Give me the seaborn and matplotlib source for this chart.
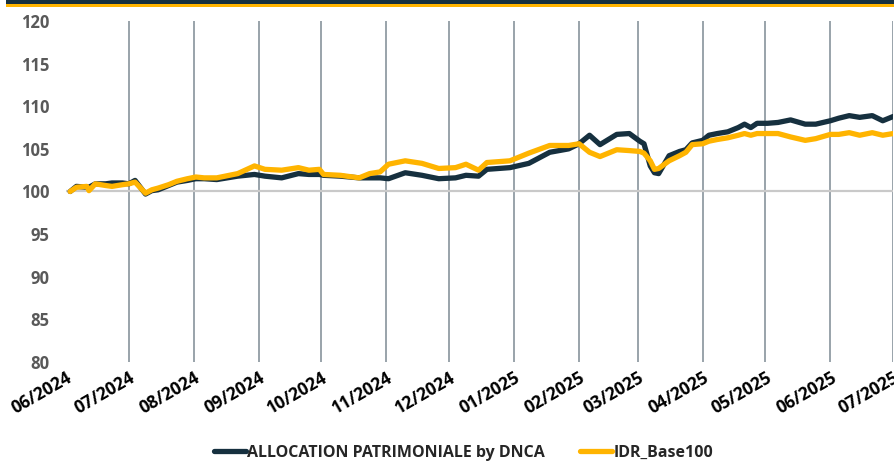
import matplotlib
matplotlib.use("Agg")
import matplotlib.pyplot as plt
from matplotlib.patches import Rectangle
from matplotlib.lines import Line2D
import seaborn as sns
import pandas as pd

dates = [
    "2024-06-03", "2024-06-06", "2024-06-11", "2024-06-12", "2024-06-15", "2024-06-20",
    "2024-06-23", "2024-06-28", "2024-07-01", "2024-07-04", "2024-07-09", "2024-07-12",
    "2024-07-15", "2024-07-20", "2024-07-24", "2024-07-29", "2024-08-02", "2024-08-06",
    "2024-08-12", "2024-08-22", "2024-08-30", "2024-09-04", "2024-09-12", "2024-09-20",
    "2024-09-25", "2024-09-30", "2024-10-02", "2024-10-10", "2024-10-19", "2024-10-24",
    "2024-10-29", "2024-11-02", "2024-11-10", "2024-11-18", "2024-11-26", "2024-12-04",
    "2024-12-09", "2024-12-15", "2024-12-19", "2024-12-30", "2025-01-08", "2025-01-18",
    "2025-01-27", "2025-02-01", "2025-02-06", "2025-02-11", "2025-02-19", "2025-02-25",
    "2025-03-02", "2025-03-04", "2025-03-07", "2025-03-09", "2025-03-11", "2025-03-16",
    "2025-03-21", "2025-03-24", "2025-03-27", "2025-04-01", "2025-04-04", "2025-04-08",
    "2025-04-13", "2025-04-18", "2025-04-21", "2025-04-24", "2025-04-27", "2025-05-02",
    "2025-05-07", "2025-05-13", "2025-05-20", "2025-05-25", "2025-06-01", "2025-06-05",
    "2025-06-10", "2025-06-15", "2025-06-21", "2025-06-26", "2025-07-01",
]

dnca = [
    100.0, 100.6, 100.5, 100.5, 100.9, 100.9,
    101.0, 101.0, 100.9, 101.3, 99.7, 100.1,
    100.2, 100.7, 101.1, 101.3, 101.5, 101.5,
    101.4, 101.8, 102.0, 101.8, 101.6, 102.1,
    102.0, 102.0, 101.9, 101.8, 101.6, 101.6,
    101.6, 101.5, 102.2, 101.9, 101.5, 101.6,
    101.9, 101.8, 102.6, 102.8, 103.3, 104.6,
    105.0, 105.6, 106.6, 105.5, 106.7, 106.8,
    105.9, 105.6, 103.0, 102.2, 102.1, 104.2,
    104.7, 104.9, 105.7, 106.0, 106.6, 106.8,
    107.0, 107.5, 107.9, 107.5, 108.0, 108.0,
    108.1, 108.4, 107.9, 107.9, 108.3, 108.6,
    108.9, 108.7, 108.9, 108.3, 108.8,
]

idr = [
    100.0, 100.5, 100.6, 100.1, 100.9, 100.7,
    100.6, 100.8, 100.9, 101.1, 99.8, 100.2,
    100.4, 100.8, 101.2, 101.5, 101.7, 101.6,
    101.6, 102.1, 103.0, 102.6, 102.5, 102.8,
    102.5, 102.6, 102.0, 101.9, 101.6, 102.1,
    102.3, 103.2, 103.6, 103.3, 102.7, 102.8,
    103.2, 102.5, 103.4, 103.6, 104.5, 105.4,
    105.4, 105.6, 104.6, 104.1, 104.9, 104.8,
    104.7, 104.5, 103.6, 102.6, 102.7, 103.6,
    104.2, 104.6, 105.5, 105.6, 105.9, 106.1,
    106.3, 106.6, 106.8, 106.6, 106.8, 106.8,
    106.8, 106.4, 106.0, 106.2, 106.7, 106.7,
    106.9, 106.6, 106.9, 106.6, 106.8,
]

series_names = ["ALLOCATION PATRIMONIALE by DNCA", "IDR_Base100"]
colors = ["#16303f", "#ffb400"]
yticks = [80, 85, 90, 95, 100, 105, 110, 115, 120]

df = pd.DataFrame({"date": pd.to_datetime(dates), series_names[0]: dnca, series_names[1]: idr})
long_df = df.melt(id_vars="date", var_name="series", value_name="value")

sns.set_style("white")
plt.rcParams["font.family"] = ["Open Sans", "DejaVu Sans"]

fig = plt.figure(figsize=(8.95, 4.62), dpi=100)
ax = fig.add_axes([0.0737, 0.2165, 0.9243, 0.738])

# header band cut at top of the image
fig.patches.append(Rectangle((0.007, 0.991), 0.993, 0.009, transform=fig.transFigure,
                             facecolor="#16303f", edgecolor="none"))
fig.patches.append(Rectangle((0.007, 0.985), 0.993, 0.007, transform=fig.transFigure,
                             facecolor="#ffb400", edgecolor="none"))

months = pd.date_range("2024-06-01", "2025-07-01", freq="MS")
for m in months[1:]:
    ax.axvline(m, color="#7d8a93", lw=1.1, zorder=1)
ax.axhline(100, color="#c9c9c9", lw=1.6, zorder=1)

sns.lineplot(data=long_df, x="date", y="value", hue="series", palette=colors,
             hue_order=series_names, linewidth=3.8, ax=ax, legend=False, zorder=3)

ax.set_xlim(months[0], months[-1])
ax.set_ylim(80, 120)
ax.set_yticks(yticks)
ax.set_yticklabels([str(v) for v in yticks], fontsize=12, fontweight="bold", color="#595959")
ax.set_xticks(months)
ax.set_xticklabels([m.strftime("%m/%Y") for m in months], rotation=30, ha="right",
                   rotation_mode="anchor", fontsize=12.5, fontweight="bold", color="black")
ax.tick_params(axis="both", length=0, pad=5)
ax.tick_params(axis="y", pad=12)
ax.set_xlabel("")
ax.set_ylabel("")
for s in ax.spines.values():
    s.set_visible(False)

handles = [Line2D([], [], color=c, lw=3.8) for c in colors]
fig.legend(handles, series_names, loc="center", bbox_to_anchor=(0.518, 0.02),
           ncol=2, frameon=False, handlelength=2.0, handletextpad=0.1, columnspacing=2.2,
           prop={"weight": "bold", "size": 11.5})

fig.savefig("out.png", dpi=100)
